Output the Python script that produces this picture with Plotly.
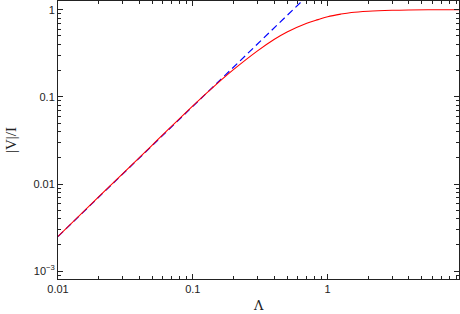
import plotly.graph_objects as go

# Red curve: |V|/I versus Lambda
lam_red = [0.01, 0.02, 0.05, 0.1, 0.15, 0.2, 0.3, 0.4, 0.5, 0.7, 0.85, 1.0, 1.25, 1.5, 2.0, 3.0, 4.0, 6.0, 9.4]
v_red = [0.0025, 0.0071, 0.028, 0.079, 0.140, 0.205, 0.335, 0.455, 0.555, 0.70, 0.77, 0.83, 0.89, 0.93, 0.962, 0.985, 0.993, 0.998, 1.0]

# Blue dashed asymptote (straight line in log-log)
lam_blue = [0.01, 0.7]
v_blue = [0.0025, 1.42]

x_tickvals = [0.01, 0.1, 1]
x_ticktext = ["0.01", "0.1", "1"]
y_tickvals = [0.001, 0.01, 0.1, 1]
y_ticktext = ["10<sup>\u22123</sup>", "0.01", "0.1", "1"]

fig = go.Figure()
fig.add_trace(go.Scatter(x=lam_blue, y=v_blue, mode="lines",
                         line=dict(color="#0000ff", width=1.2, dash="7px,4px"), showlegend=False))
fig.add_trace(go.Scatter(x=lam_red, y=v_red, mode="lines", line_shape="spline",
                         line=dict(color="#ff0000", width=1.1), showlegend=False))

axis_common = dict(type="log", showgrid=False, zeroline=False, showline=True, automargin=False,
                   linecolor="#222", linewidth=1, mirror="allticks",
                   ticks="inside", ticklen=5, tickcolor="#222", tickwidth=1,
                   tickfont=dict(family="Liberation Sans, Arial, sans-serif", size=11, color="#222"),
                   minor=dict(ticks="inside", ticklen=3, tickcolor="#222", dtick="D1", showgrid=False))

fig.update_xaxes(range=[-2, 0.974], tickmode="array", tickvals=x_tickvals, ticktext=x_ticktext, **axis_common)
fig.update_yaxes(range=[-3.09, 0.1], tickmode="array", tickvals=y_tickvals, ticktext=y_ticktext, **axis_common)

fig.update_layout(
    width=460, height=314,
    margin=dict(l=58, r=1, t=1, b=35, autoexpand=False),
    paper_bgcolor="white", plot_bgcolor="white",
    annotations=[
        dict(text="\u039b", xref="paper", yref="paper", x=0.5, y=0, yshift=-26,
             xanchor="center", yanchor="middle",
             showarrow=False, font=dict(family="DejaVu Serif, serif", size=13, color="#222")),
        dict(text="|V|/I", xref="paper", yref="paper", x=0, y=0.5, xshift=-47,
             xanchor="center", yanchor="middle",
             textangle=-90, showarrow=False,
             font=dict(family="Liberation Serif, serif", size=15, color="#222")),
    ],
)

fig.write_html("out.html", config={"displayModeBar": False, "staticPlot": True},
               post_script="document.body.style.margin='0';document.body.style.overflow='hidden';")
